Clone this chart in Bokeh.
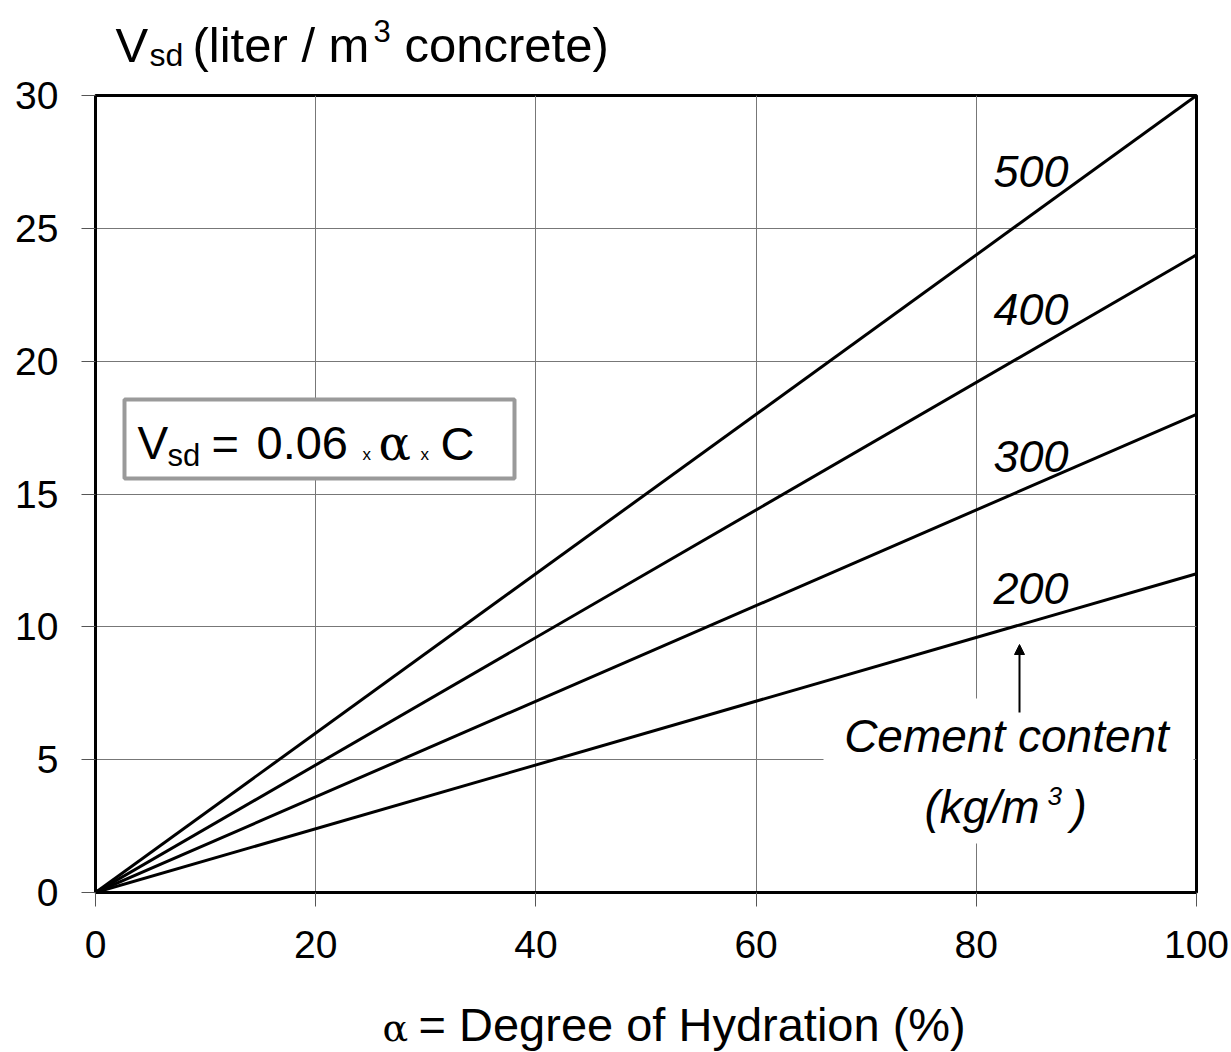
from bokeh.plotting import figure
from bokeh.models import Range1d, Label, BoxAnnotation, Arrow, NormalHead, FixedTicker
from bokeh.layouts import column
from bokeh.embed import file_html
from bokeh.resources import INLINE

# ---------------- data ----------------
alpha_pct = [0, 100]                   # degree of hydration (%)
cement_content = [200, 300, 400, 500]  # kg/m3
vsd_200 = [0, 12]
vsd_300 = [0, 18]
vsd_400 = [0, 24]
vsd_500 = [0, 30]
series = [vsd_200, vsd_300, vsd_400, vsd_500]
x_ticks = [0, 20, 40, 60, 80, 100]
y_ticks = [0, 5, 10, 15, 20, 25, 30]

# ---------------- layout (page px) ----------------
W = 1231
TOP_H = 73          # title strip
MAIN_BOTTOM = 985   # main figure ends here
TOTAL_H = 1052
FX0, FX1, FY0, FY1 = 95, 1196, 892, 95   # plot frame in page px

SANS = "Liberation Sans"
SERIF = "DejaVu Serif"
K = 0.35  # baseline compensation factor

def dx(px):
    return (px - FX0) * 100.0 / (FX1 - FX0)
def dy(py):
    return (FY0 - py) * 30.0 / (FY0 - FY1)

def make_label(fig, text, x, y, size, font=SANS, style="normal", align="left"):
    fig.add_layout(Label(x=x, y=y, text=text, text_font=font,
                         text_font_size=f"{size}px", text_font_style=style,
                         text_align=align, text_baseline="alphabetic",
                         text_color="black"))

def strip(height, y0, y1):
    # frame aligned with the main frame horizontally; data x == page px
    f = figure(width=W, height=height, x_range=Range1d(FX0, FX1), y_range=Range1d(y1, y0),
               output_backend="svg", toolbar_location=None, title=None,
               x_axis_location=None, y_axis_location=None,
               min_border_left=FX0, min_border_right=W - FX1,
               min_border_top=0, min_border_bottom=0)
    f.outline_line_color = None
    f.grid.visible = False
    f.background_fill_color = "white"
    f.border_fill_color = "white"
    return f

# ---------------- title strip (y-axis title) ----------------
top = strip(TOP_H, 0, TOP_H)
def tlab(text, px, py, size, **kw):
    make_label(top, text, px, py - K * size, size, **kw)
tlab("V", 115, 62, 49)
tlab("sd", 149, 66, 32)
tlab("(liter / m", 192, 62, 49)
tlab("3", 373, 41, 31)
tlab("concrete)", 404, 62, 49)

# ---------------- main plot ----------------
p = figure(width=W, height=MAIN_BOTTOM - TOP_H, x_range=Range1d(0, 100), y_range=Range1d(0, 30),
           output_backend="svg", toolbar_location=None, title=None,
           min_border_left=FX0, min_border_right=W - FX1,
           min_border_top=FY1 - TOP_H, min_border_bottom=MAIN_BOTTOM - FY0)
p.background_fill_color = "white"
p.border_fill_color = "white"
p.outline_line_color = "black"
p.outline_line_width = 3
p.outline_line_alpha = 1

p.xaxis.ticker = FixedTicker(ticks=x_ticks)
p.yaxis.ticker = FixedTicker(ticks=y_ticks)
p.axis.minor_tick_line_color = None
p.axis.major_tick_in = 0
p.axis.major_tick_out = 14
p.axis.major_tick_line_color = "#555555"
p.axis.major_tick_line_width = 1
p.axis.axis_line_color = "black"
p.axis.axis_line_width = 3
p.axis.major_label_text_font = SANS
p.axis.major_label_text_font_size = "39px"
p.axis.major_label_text_color = "black"
p.xaxis.major_label_standoff = 24
p.yaxis.major_label_standoff = 23
p.grid.grid_line_color = "#777777"
p.grid.grid_line_width = 1

for s in series:
    p.line(alpha_pct, s, line_color="black", line_width=3)

def mlab(text, px, py, size, **kw):
    make_label(p, text, dx(px), dy(py - K * size), size, **kw)

# curve labels
label_baseline = [604, 472, 325, 187]
for c, yy in zip(cement_content, label_baseline):
    mlab(str(c), 993, yy, 45, style="italic")

# formula box
p.add_layout(BoxAnnotation(left=dx(124), right=dx(514), top=dy(399), bottom=dy(478),
                           fill_color="white", fill_alpha=1,
                           line_color="#9a9a9a", line_width=4, line_alpha=1))
mlab("V", 137, 459, 46)
mlab("sd", 167, 466, 31)
mlab("=", 211, 459, 47)
mlab("0.06", 256, 459, 47)
mlab("x", 362, 460, 17)
mlab("\u03b1", 378, 459, 48, font=SERIF)
mlab("x", 420, 460, 17)
mlab("C", 440, 459, 47)

# cement content annotation
p.add_layout(BoxAnnotation(left=dx(823), right=dx(1193), top=dy(698), bottom=dy(843),
                           fill_color="white", fill_alpha=1, line_alpha=0))
p.add_layout(Arrow(x_start=dx(1019), y_start=dy(712), x_end=dx(1019), y_end=dy(644),
                   line_color="black", line_width=2,
                   end=NormalHead(size=10, fill_color="black", line_color="black")))
mlab("Cement content", 1006, 752, 46, style="italic", align="center")
mlab("(kg/m", 924, 823, 46, style="italic")
mlab("3", 1047, 805, 26, style="italic")
mlab(")", 1071, 823, 46, style="italic")

# ---------------- x-axis title strip ----------------
bot = strip(TOTAL_H - MAIN_BOTTOM, MAIN_BOTTOM, TOTAL_H)
def blab(text, px, py, size, **kw):
    make_label(bot, text, px, py - K * size, size, **kw)
blab("\u03b1", 382, 1041, 38, font=SERIF)
blab("= Degree of Hydration (%)", 418, 1040, 47)

layout = column(top, p, bot, spacing=0)
open("out.html", "w").write(file_html(layout, INLINE))
